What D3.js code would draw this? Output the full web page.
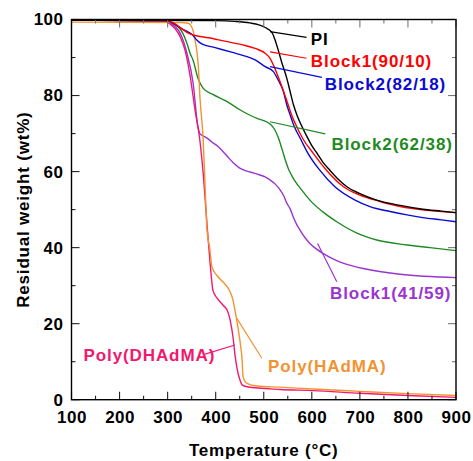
<!DOCTYPE html>
<html><head><meta charset="utf-8">
<script src="https://cdn.jsdelivr.net/npm/d3@7"></script>
<style>
html,body{margin:0;padding:0;background:#fff;}
svg{display:block;font-family:"Liberation Sans",Arial,sans-serif;}
</style></head>
<body><svg id="c" width="473" height="461"></svg>
<script>
// ---- data (Temperature °C, residual weight %) ----
const seriesNames = ["PI","Block1(90/10)","Block2(82/18)","Block2(62/38)","Block1(41/59)","Poly(HAdMA)","Poly(DHAdMA)"];
const colors = ["#000000","#ff0000","#0a0ad2","#1f8a24","#9a35d0","#f39231","#f0196e"];
const PI = [[100,99.8],[400,99.7],[440,99.5],[471,99.1],[490,98.6],[503,97.9],[517,96.6],[523,94.8],[530,92],[537,88.9],[548,84.5],[555,81],[562,77.5],[569,74.9],[577,72.5],[590,69.2],[600,66.8],[611,64.8],[623,62.5],[638,60.3],[655,58],[673,56],[700,54.2],[735,52.5],[784,51.1],[831,50.1],[870,49.6],[900,49.2]];
const block1_90 = [[100,99.8],[290,99.7],[305,99.5],[315,98.9],[329,97.6],[343,96.4],[357,95.8],[385,95.2],[419,94.3],[454,93.4],[482,92.4],[503,91.1],[513,89.8],[523,87.2],[534,83.6],[544,80.1],[551,77.5],[558,74.9],[566,72.5],[582,68.5],[603,64.8],[631,60.3],[666,56],[700,53.8],[740,52.2],[784,50.8],[840,49.8],[900,49.2]];
const block2_82 = [[100,99.8],[290,99.7],[305,99.4],[315,98.7],[329,97.6],[343,96.7],[353,95.8],[360,94.7],[371,93.6],[399,92.6],[433,91.4],[468,90.1],[482,89.4],[503,87.6],[520,86.3],[530,84.1],[541,81],[548,77.5],[555,74.9],[562,72.3],[577,68.5],[592,64.8],[617,60.3],[648,56],[690,52.5],[721,50.8],[763,49.5],[798,48.6],[831,47.9],[870,47.3],[900,46.8]];
const block2_62 = [[100,99.8],[280,99.6],[299,99.4],[322,98],[332,96.3],[340,93.8],[347,91],[353,89.3],[363,84.6],[374,81.9],[394,80.3],[424,78.4],[451,76.2],[486,74],[500,73.4],[513,72.5],[522,71.2],[530,69],[538,65.9],[545,63],[551,60.8],[558,59],[565,57.5],[580,55],[596,52.5],[623,49.4],[652,46.8],[694,43.8],[735,42],[798,40.7],[846,40],[900,39.2]];
const block1_41 = [[100,99.8],[290,99.6],[305,99],[326,96.4],[340,91.2],[353,83.3],[363,71.8],[367,70],[382,68.8],[394,67.6],[405,66.6],[415,65.3],[425,63.9],[436,62.4],[450,60.9],[465,60.1],[480,59.6],[492,59.1],[503,58.6],[513,57.8],[524,56.7],[534,55.2],[542,53.5],[548,51.7],[555,50.2],[561,48.2],[569,46],[576,44.5],[586,42.6],[596,41.1],[610,39.6],[623,38.5],[645,37],[665,35.9],[715,34.3],[784,33],[900,32.1]];
const polyHAdMA = [[100,99.3],[326,99.2],[343,99],[349,98.3],[353,97],[357,94.5],[361,91.5],[364,87.5],[367,80],[374,68.3],[378,56],[382,44.6],[388,39.4],[392,35],[403,32.6],[415,31],[424,29.7],[430,28.4],[436,26.2],[440,23.6],[446,19.2],[451,15],[455,10.4],[457,6],[465,4.3],[486,3.6],[534,3.3],[603,2.8],[700,2.2],[800,1.6],[900,1.1]];
const polyDHAdMA = [[100,99.8],[290,99.6],[305,98.8],[326,95.5],[336,92],[347,85],[357,76.2],[367,68.3],[374,59.5],[382,46],[388,36.5],[392,31],[394,28.9],[403,26.7],[415,24.9],[424,23.5],[430,21],[436,16.5],[440,12],[444,8.5],[451,5],[455,3.9],[465,3.4],[534,2.7],[603,2.4],[700,1.7],[800,1.1],[900,0.6]];
const seriesData = [PI,block1_90,block2_82,block2_62,block1_41,polyHAdMA,polyDHAdMA];
// label anchor (T, w) and leader lines [[T1,w1],[T2,w2]]
const labelPos = [[598,94.8],[598,88.9],[627,82.8],[641,67.2],[638,28],[509,8.7],[125,11.5]];
const leaders = [[[513,96.8],[589,95.3]],[[513,91.5],[589,89.8]],[[513,87.6],[621,84.8]],[[513,73.1],[628,69.9]],[[612,41.1],[652,31.0]],[[444,21.4],[496,10.9]],[[378,12],[440,14.4]]];
const xTicks = [100,200,300,400,500,600,700,800,900];
const yTicks = [0,20,40,60,80,100];

const svg = d3.select("#c");
const L=71.5, R=456, T=19.5, B=399.7;
const x = d3.scaleLinear().domain([100,900]).range([L,R]);
const y = d3.scaleLinear().domain([0,100]).range([B,T]);

const font = "'Liberation Sans',Arial,sans-serif";
// lines
const line = d3.line().x(d=>x(d[0])).y(d=>y(d[1])).curve(d3.curveMonotoneX);
svg.append("clipPath").attr("id","pc").append("rect").attr("x",L).attr("y",T).attr("width",R-L).attr("height",B-T);
const g = svg.append("g").attr("clip-path","url(#pc)");
const order=[3,4,6,5,2,1,0];
order.forEach(i=>{
  g.append("path").attr("d",line(seriesData[i])).attr("fill","none")
   .attr("stroke",colors[i]).attr("stroke-width",1.4);
});
// leaders
leaders.forEach((l,i)=>{
  svg.append("line").attr("x1",x(l[0][0])).attr("y1",y(l[0][1])).attr("x2",x(l[1][0])).attr("y2",y(l[1][1]))
    .attr("stroke",colors[i]).attr("stroke-width",1.2);
});
// labels
labelPos.forEach((p,i)=>{
  svg.append("text").attr("x",x(p[0])).attr("y",y(p[1])).attr("dominant-baseline","central")
   .attr("font-family",font).attr("font-weight","bold").attr("font-size",17).attr("letter-spacing",0.9)
   .attr("fill",colors[i]).text(seriesNames[i]);
});

// axes with inward ticks
const minorX = d3.range(100,901,50), minorY = d3.range(0,101,10);
const tk = svg.append("g").attr("stroke","#222").attr("stroke-width",1.1);
minorX.forEach(v=>{
  const len = (v%100===0)?8:4;
  tk.append("line").attr("x1",x(v)).attr("x2",x(v)).attr("y1",B).attr("y2",B-len);
  tk.append("line").attr("x1",x(v)).attr("x2",x(v)).attr("y1",T).attr("y2",T+len).attr("stroke","#777");
});
minorY.forEach(v=>{
  const len = (v%20===0)?8:4;
  tk.append("line").attr("y1",y(v)).attr("y2",y(v)).attr("x1",L).attr("x2",L+len);
  tk.append("line").attr("y1",y(v)).attr("y2",y(v)).attr("x1",R).attr("x2",R-len).attr("stroke","#777");
});
svg.append("rect").attr("x",L).attr("y",T).attr("width",R-L).attr("height",B-T)
  .attr("fill","none").attr("stroke","#000").attr("stroke-width",1.4);

const xa = svg.append("g").attr("transform",`translate(0,${B})`)
  .call(d3.axisBottom(x).tickValues(xTicks).tickSize(0).tickPadding(11).tickFormat(d3.format("d")));
xa.select(".domain").remove();
xa.selectAll("text").attr("font-family",font).attr("font-weight","bold").attr("font-size",17).attr("fill","#000").attr("letter-spacing",0.5);
const ya = svg.append("g").attr("transform",`translate(${L},0)`)
  .call(d3.axisLeft(y).tickValues(yTicks).tickSize(0).tickPadding(8).tickFormat(d3.format("d")));
ya.select(".domain").remove();
ya.selectAll("text").attr("font-family",font).attr("font-weight","bold").attr("font-size",17).attr("fill","#000").attr("letter-spacing",0.5);

svg.append("text").attr("x",(L+R)/2).attr("y",450).attr("text-anchor","middle").attr("dominant-baseline","central")
  .attr("font-family",font).attr("font-weight","bold").attr("font-size",17).attr("letter-spacing",0.8).text("Temperature (°C)");
svg.append("text").attr("transform",`translate(23,${(T+B)/2}) rotate(-90)`).attr("text-anchor","middle").attr("dominant-baseline","central")
  .attr("font-family",font).attr("font-weight","bold").attr("font-size",17).attr("letter-spacing",0.8).text("Residual weight (wt%)");
</script></body></html>
